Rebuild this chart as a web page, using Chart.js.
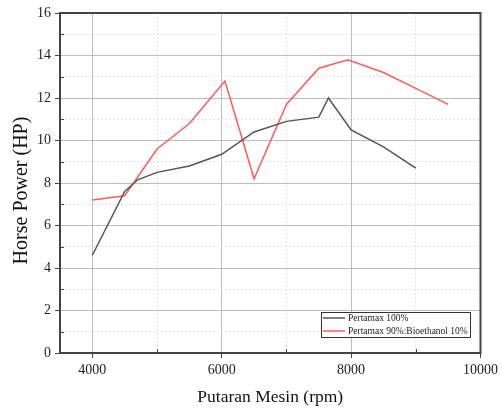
<!DOCTYPE html>
<html>
<head>
<meta charset="utf-8">
<script src="https://cdn.jsdelivr.net/npm/chart.js@4"></script>
<style>
  html, body { margin: 0; padding: 0; background: #fff; }
  #wrap { width: 502px; height: 410px; }
</style>
</head>
<body>
<div id="wrap"><canvas id="hp-chart" width="502" height="410"></canvas></div>
<script>
// data
const rpmPertamax = [4000, 4500, 4700, 5000, 5500, 6000, 6500, 7000, 7500, 7650, 8000, 8500, 9000]
const hpPertamax = [4.6, 7.6, 8.15, 8.5, 8.8, 9.35, 10.4, 10.9, 11.1, 12.0, 10.5, 9.7, 8.7]
const rpmBlend = [4000, 4500, 5000, 5500, 6050, 6500, 7000, 7500, 7950, 8500, 9000, 9500]
const hpBlend = [7.2, 7.4, 9.6, 10.8, 12.8, 8.2, 11.7, 13.4, 13.8, 13.2, 12.45, 11.7]
const seriesNames = ['Pertamax 100%', 'Pertamax 90%:Bioethanol 10%']
const xTicks = [4000, 5000, 6000, 7000, 8000, 9000, 10000]

const serif = 'Liberation Serif'
const frameColor = '#444'

function isMinorX(v) { return v % 2000 !== 0 }
function isMinorY(v) { return v % 2 !== 0 }

// frame, inward minor ticks and the boxed legend
const extras = {
    id: 'extras',
    afterDraw(chart) {
        const ctx = chart.ctx
        const a = chart.chartArea
        const xs = chart.scales.x
        const ys = chart.scales.y
        ctx.save()
        ctx.strokeStyle = frameColor
        ctx.lineWidth = 1
        for (let v = 1; v < 16; v += 2) {
            const y = Math.round(ys.getPixelForValue(v)) + 0.5
            ctx.beginPath(); ctx.moveTo(a.left, y); ctx.lineTo(a.left + 4, y); ctx.stroke()
        }
        xTicks.filter(isMinorX).forEach(v => {
            const x = Math.round(xs.getPixelForValue(v)) + 0.5
            ctx.beginPath(); ctx.moveTo(x, a.bottom); ctx.lineTo(x, a.bottom - 4); ctx.stroke()
        })
        ctx.lineWidth = 2
        ctx.strokeRect(a.left, a.top, a.right - a.left, a.bottom - a.top)

        // legend
        const lx = 321, ly = 312, lw = 149, lh = 25
        ctx.fillStyle = '#fff'
        ctx.fillRect(lx, ly, lw, lh)
        ctx.lineWidth = 1
        ctx.strokeStyle = '#333'
        ctx.strokeRect(lx + 0.5, ly + 0.5, lw, lh)
        ctx.font = '9.5px "' + serif + '"'
        ctx.textBaseline = 'middle'
        chart.data.datasets.forEach((ds, i) => {
            const y = ly + 6 + i * 13
            ctx.strokeStyle = ds.borderColor
            ctx.lineWidth = 1.5
            ctx.beginPath(); ctx.moveTo(lx + 2, y); ctx.lineTo(lx + 24, y); ctx.stroke()
            ctx.fillStyle = '#222'
            ctx.fillText(ds.label, lx + 27, y)
        })
        ctx.restore()
    }
}

new Chart(document.querySelector('#hp-chart'), {
    type: 'line',
    data: {
        datasets: [
            {
                label: seriesNames[0],
                data: rpmPertamax.map((r, i) => ({ x: r, y: hpPertamax[i] })),
                borderColor: '#555555',
                borderWidth: 1.5,
                pointRadius: 0,
                tension: 0
            },
            {
                label: seriesNames[1],
                data: rpmBlend.map((r, i) => ({ x: r, y: hpBlend[i] })),
                borderColor: '#ff5a5a',
                borderWidth: 1.5,
                pointRadius: 0,
                tension: 0
            }
        ]
    },
    options: {
        responsive: false,
        animation: false,
        layout: { padding: { left: 0, right: 20, top: 13, bottom: 0 } },
        plugins: {
            legend: { display: false },
            tooltip: { enabled: false }
        },
        scales: {
            x: {
                type: 'linear',
                min: 3500,
                max: 10000,
                afterBuildTicks: scale => { scale.ticks = xTicks.map(v => ({ value: v })) },
                afterFit: scale => { scale.height = 57 },
                ticks: {
                    autoSkip: false,
                    maxRotation: 0,
                    padding: 4,
                    color: '#222',
                    font: { family: serif, size: 14 },
                    callback: v => isMinorX(v) ? '' : String(v)
                },
                grid: {
                    color: c => c.tick && isMinorX(c.tick.value) ? '#e2e2e2' : '#bdbdbd',
                    tickColor: c => c.tick && isMinorX(c.tick.value) ? 'rgba(0,0,0,0)' : frameColor,
                    tickLength: 5,
                    lineWidth: 1
                },
                border: {
                    color: frameColor,
                    width: 2,
                    dash: c => c.tick && isMinorX(c.tick.value) ? [2, 2] : []
                },
                title: {
                    display: true,
                    text: 'Putaran Mesin (rpm)',
                    color: '#111',
                    font: { family: serif, size: 17.5 },
                    padding: { top: 0, bottom: 2 }
                }
            },
            y: {
                min: 0,
                max: 16,
                afterFit: scale => { scale.width = 60 },
                ticks: {
                    stepSize: 1,
                    autoSkip: false,
                    padding: 4,
                    color: '#222',
                    font: { family: serif, size: 14 },
                    callback: v => isMinorY(v) ? '' : String(v)
                },
                grid: {
                    color: c => c.tick && isMinorY(c.tick.value) ? '#e2e2e2' : '#bdbdbd',
                    tickColor: c => c.tick && isMinorY(c.tick.value) ? 'rgba(0,0,0,0)' : frameColor,
                    tickLength: 5,
                    lineWidth: 1
                },
                border: {
                    color: frameColor,
                    width: 2,
                    dash: c => c.tick && isMinorY(c.tick.value) ? [2, 2] : []
                },
                title: {
                    display: true,
                    // trailing spaces nudge the centred title down to where the original sits
                    text: 'Horse Power (HP)   ',
                    color: '#111',
                    font: { family: serif, size: 20 },
                    padding: { top: 10, bottom: 0 }
                }
            }
        }
    },
    plugins: [extras]
})
</script>
</body>
</html>
